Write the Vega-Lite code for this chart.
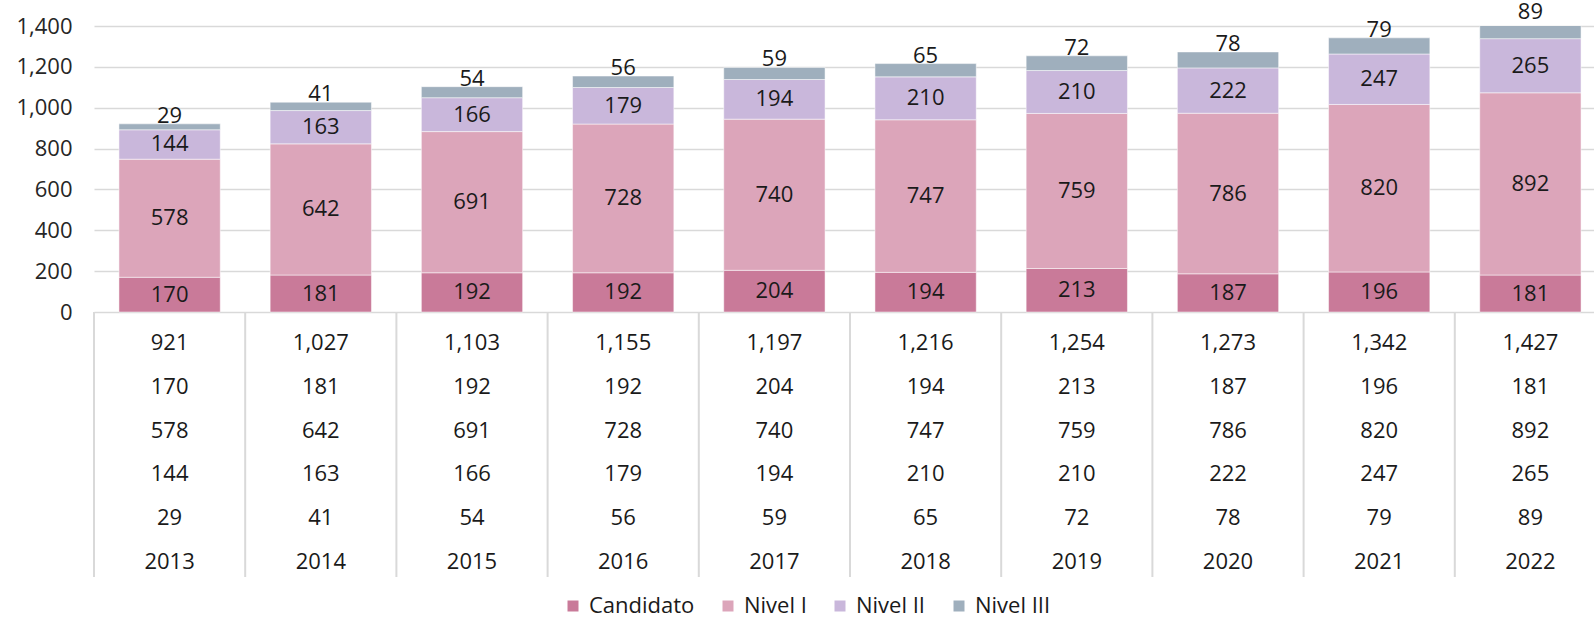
{
  "$schema": "https://vega.github.io/schema/vega-lite/v6.json",
  "autosize": {"type": "none"},
  "padding": {"left": 94, "top": 26, "right": 0, "bottom": 44},
  "background": "white",
  "width": 1500,
  "height": 551,
  "config": {"font": "Open Sans", "view": {"stroke": null}},
  "datasets": {
    "d": [
      {"Año": "2013", "Total": 921, "Candidato": 170, "Nivel I": 578, "Nivel II": 144, "Nivel III": 29},
      {"Año": "2014", "Total": 1027, "Candidato": 181, "Nivel I": 642, "Nivel II": 163, "Nivel III": 41},
      {"Año": "2015", "Total": 1103, "Candidato": 192, "Nivel I": 691, "Nivel II": 166, "Nivel III": 54},
      {"Año": "2016", "Total": 1155, "Candidato": 192, "Nivel I": 728, "Nivel II": 179, "Nivel III": 56},
      {"Año": "2017", "Total": 1197, "Candidato": 204, "Nivel I": 740, "Nivel II": 194, "Nivel III": 59},
      {"Año": "2018", "Total": 1216, "Candidato": 194, "Nivel I": 747, "Nivel II": 210, "Nivel III": 65},
      {"Año": "2019", "Total": 1254, "Candidato": 213, "Nivel I": 759, "Nivel II": 210, "Nivel III": 72},
      {"Año": "2020", "Total": 1273, "Candidato": 187, "Nivel I": 786, "Nivel II": 222, "Nivel III": 78},
      {"Año": "2021", "Total": 1342, "Candidato": 196, "Nivel I": 820, "Nivel II": 247, "Nivel III": 79},
      {"Año": "2022", "Total": 1427, "Candidato": 181, "Nivel I": 892, "Nivel II": 265, "Nivel III": 89}
    ]
  },
  "data": {"name": "d"},
  "resolve": {"scale": {"x": "independent", "y": "independent"}, "axis": {"x": "independent", "y": "independent"}},
  "layer": [
    {
      "transform": [{"fold": ["Candidato", "Nivel I", "Nivel II", "Nivel III"], "as": ["Nivel", "Valor"]}],
      "encoding": {
        "x": {
          "field": "Año", "type": "nominal",
          "scale": {"range": [0, 1512], "paddingInner": 0.33, "paddingOuter": 0.165},
          "axis": null
        }
      },
      "layer": [
        {
          "mark": {"type": "bar", "clip": true, "stroke": "#ffffff", "strokeWidth": 0.5},
          "encoding": {
            "y": {
              "field": "Valor", "type": "quantitative", "stack": "zero",
              "scale": {"domain": [0, 1400], "nice": false, "range": [286, 0]},
              "axis": {"values": [0, 200, 400, 600, 800, 1000, 1200, 1400], "format": ",d", "title": null, "domain": false, "ticks": false, "grid": true, "gridColor": "#d9d9d9", "gridWidth": 1.5, "labelFontSize": 22, "labelColor": "#262626", "labelPadding": 22}
            },
            "color": {
              "field": "Nivel", "type": "nominal",
              "scale": {"domain": ["Candidato", "Nivel I", "Nivel II", "Nivel III"], "range": ["#C97A99", "#DCA5BA", "#C9B7DB", "#9FAFBD"]},
              "legend": {"title": null, "orient": "none", "legendX": 468, "legendY": 569, "direction": "horizontal", "symbolType": "square", "symbolSize": 121, "symbolStrokeWidth": 0, "labelFontSize": 22, "labelColor": "#1a1a1a", "columnPadding": 22, "labelOffset": 5}
            },
            "order": {"field": "Nivel", "sort": "ascending"}
          }
        },
        {
          "mark": {"type": "rule", "color": "#d9d9d9", "strokeWidth": 2},
          "encoding": {"y": {"datum": 0, "type": "quantitative"}}
        },
        {
          "transform": [{"filter": "datum.Nivel !== 'Nivel III'"}],
          "mark": {"type": "text", "fontSize": 22, "color": "#1a1a1a"},
          "encoding": {
            "y": {"field": "Valor", "type": "quantitative", "stack": "zero", "bandPosition": 0.5},
            "text": {"field": "Valor", "type": "quantitative"},
            "order": {"field": "Nivel", "sort": "ascending"}
          }
        },
        {
          "transform": [{"filter": "datum.Nivel === 'Nivel III'"}],
          "mark": {"type": "text", "fontSize": 22, "color": "#1a1a1a", "dy": -8},
          "encoding": {
            "y": {"field": "Total", "type": "quantitative"},
            "text": {"field": "Valor", "type": "quantitative"}
          }
        }
      ]
    },
    {
      "transform": [{"fold": ["Total", "Candidato", "Nivel I", "Nivel II", "Nivel III"], "as": ["Fila", "Valor"]}],
      "encoding": {
        "x": {
          "field": "Año", "type": "nominal",
          "scale": {"range": [0, 1512], "paddingInner": 0, "paddingOuter": 0},
          "axis": null
        }
      },
      "layer": [
        {
          "mark": {"type": "text", "fontSize": 22, "color": "#1a1a1a"},
          "encoding": {
            "y": {"field": "Fila", "type": "nominal", "scale": {"type": "point", "domain": ["Total", "Candidato", "Nivel I", "Nivel II", "Nivel III", "Año"], "range": [317, 536], "padding": 0}, "axis": null},
            "text": {"field": "Valor", "type": "quantitative", "format": ",d"}
          }
        },
        {
          "transform": [{"filter": "datum.Fila === 'Total'"}],
          "mark": {"type": "text", "fontSize": 22, "color": "#1a1a1a"},
          "encoding": {
            "y": {"datum": "Año", "type": "nominal"},
            "text": {"field": "Año", "type": "nominal"}
          }
        }
      ]
    },
    {
      "mark": {"type": "rule", "color": "#d9d9d9", "strokeWidth": 2},
      "encoding": {
        "x": {"field": "Año", "type": "nominal", "bandPosition": 0, "scale": {"range": [0, 1512], "paddingInner": 0, "paddingOuter": 0}, "axis": null},
        "y": {"datum": 0, "type": "quantitative", "scale": {"domain": [0, 1], "range": [286, 551]}, "axis": null},
        "y2": {"datum": 1}
      }
    }
  ]
}
